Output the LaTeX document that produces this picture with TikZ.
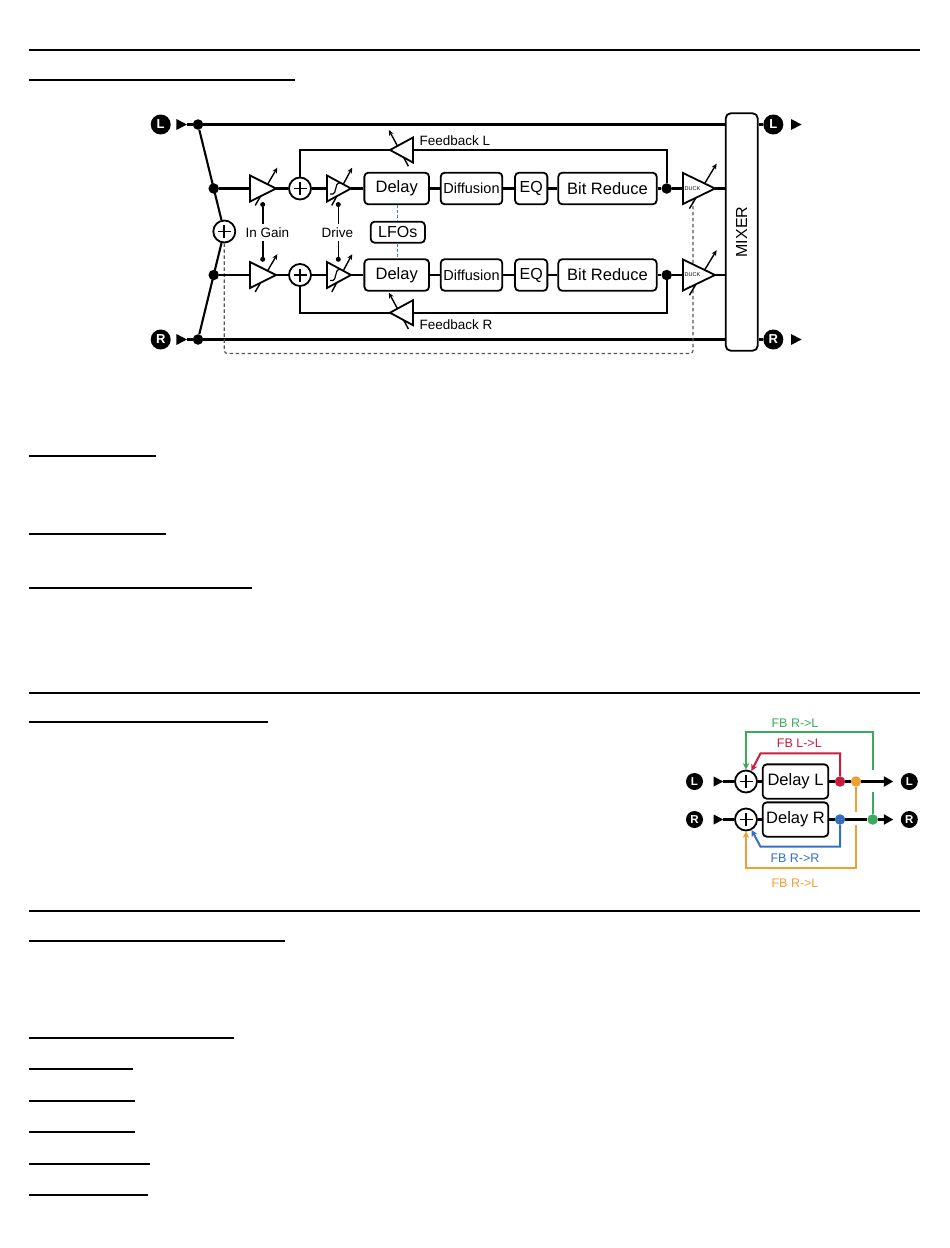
\documentclass[tikz,border=0pt]{standalone}
\usepackage{fontspec}
\usepackage{graphicx}
\setmainfont{Liberation Sans}
\usetikzlibrary{arrows.meta,calc}
\definecolor{fbgreen}{HTML}{3AAA5C}
\definecolor{fbred}{HTML}{C81E3C}
\definecolor{fborange}{HTML}{F0A030}
\definecolor{fbblue}{HTML}{3470C0}
\definecolor{lfoblue}{HTML}{3A7FC0}
\definecolor{ctlgray}{HTML}{555555}
\tikzset{
  pics/amp/.style args={#1/#2}{code={
    \draw[line width=1.4pt, -{Stealth[length=5.5pt,width=5pt]}] (-0.6*#1,1.3*#2) -- (1.1*#1,-1.6*#2);
    \draw[line width=1.8pt, fill=white, line join=miter] (-#1,-#2) -- (#1,0) -- (-#1,#2) -- cycle;
    \coordinate (-in) at (-#1,0);
    \coordinate (-out) at (#1,0);
  }},
}
\begin{document}
\begin{tikzpicture}[x=1pt,y=-1pt,
  wire/.style={line width=2.1pt},
  box/.style={draw, line width=1.8pt, rounded corners=4pt, fill=white, inner sep=0pt, font=\fontsize{16.5}{18}\selectfont},
  dot/.style={circle, fill, inner sep=0pt, minimum size=10.5pt},
  sdot/.style={circle, fill, inner sep=0pt, minimum size=5pt},
  io/.style={circle, fill=black, text=white, inner sep=0pt, minimum size=20pt, font=\fontsize{13}{13}\selectfont\bfseries},
  plus/.style={circle, draw, line width=1.8pt, minimum size=22pt, inner sep=0pt, fill=white,
    path picture={\draw[line width=1.8pt] ([xshift=-6.5pt]path picture bounding box.center) -- ([xshift=6.5pt]path picture bounding box.center) ([yshift=-6.5pt]path picture bounding box.center) -- ([yshift=6.5pt]path picture bounding box.center);}},
  lbl/.style={inner sep=3pt, font=\fontsize{13.5}{15}\selectfont},
  fbl/.style={inner sep=1pt, font=\fontsize{12.5}{14}\selectfont},
  rulestyle/.style={line width=2pt},
  uline/.style={line width=1.4pt},
  ctl/.style={line width=1.6pt},
  fbg/.style={line width=2pt, draw=fbgreen},
  fbr/.style={line width=2pt, draw=fbred},
  fbo/.style={line width=2pt, draw=fborange},
  fbb/.style={line width=2pt, draw=fbblue},
  fbtip/.style={-{Stealth[length=6.5pt,width=6.5pt]}},
]
\useasboundingbox (0,0) rectangle (950,1248);

% ---------- page rules and underlines ----------
\draw[rulestyle] (29,50) -- (920,50);
\draw[rulestyle] (29,80) -- (295,80);
\draw[uline] (29,456) -- (156,456);
\draw[uline] (29,534) -- (166,534);
\draw[uline] (29,588) -- (252,588);
\draw[rulestyle] (29,693) -- (920,693);
\draw[rulestyle] (29,722) -- (268,722);
\draw[rulestyle] (29,911) -- (920,911);
\draw[rulestyle] (29,941) -- (285,941);
\draw[uline] (29,1038) -- (234,1038);
\draw[uline] (29,1069) -- (133,1069);
\draw[uline] (29,1101) -- (135,1101);
\draw[uline] (29,1132) -- (135,1132);
\draw[uline] (29,1164) -- (150,1164);
\draw[uline] (29,1195) -- (148,1195);

% ---------- main diagram ----------
% inputs
\node[io] (Lin) at (160.7,124.5) {L};
\node[io] (Rin) at (160.7,339.5) {R};
\fill ([xshift=5.5pt]Lin.east) -- ++(0,-5.5) -- ++(10.5,5.5) -- ++(-10.5,5.5) -- cycle;
\fill ([xshift=5.5pt]Rin.east) -- ++(0,-5.5) -- ++(10.5,5.5) -- ++(-10.5,5.5) -- cycle;
\coordinate (Ltip) at ([xshift=16pt]Lin.east);
\coordinate (Rtip) at ([xshift=16pt]Rin.east);
\node[dot] (inL) at (198,124.5) {};
\node[dot] (inR) at (198,339.5) {};
\draw[wire] (Ltip) -- (inL) (Rtip) -- (inR);

% mixer
\node[draw, line width=1.8pt, rounded corners=5pt, minimum width=32pt, minimum height=237.4pt, inner sep=0pt, fill=white,
  font=\fontsize{16}{18}\selectfont] (mix) at (741.7,232) {\rotatebox{90}{MIXER}};

% sum of L+R for ducking control
\node[plus] (pin) at (224.3,231.5) {};
\node[dot] (jL) at (213.7,188.5) {};
\node[dot] (jR) at (213.7,275) {};
\draw[wire] (inL) -- (pin) (pin) -- (inR);

% dry lines to mixer
\draw[wire] (inL) -- (inL -| mix.west);
\draw[wire] (inR) -- (inR -| mix.west);

% ducking control (dashed)
\coordinate (dashbl) at (224.3,353.5);
\coordinate (dashbr) at (693,353.5);
\coordinate (duckctl) at (693,201);
\draw[line width=1.2pt, ctlgray, dash pattern=on 3.5pt off 2.5pt, rounded corners=3pt] (pin.south) -- (dashbl) -- (dashbr) -- (duckctl);

% LFOs
\node[box, minimum width=54.3pt, minimum height=21pt, font=\fontsize{16}{18}\selectfont] (lfo) at (397.8,232.2) {LFOs};

% rows
\foreach \r/\y in {1/188.5, 2/275}{
  \pic (ag\r) at (263,\y) {amp=13/13};
  \node[plus] (p\r) at (300,\y) {};
  \pic (dr\r) at (339,\y) {amp=12/13};
  \node[box, minimum width=64.7pt, minimum height=31.6pt] (dl\r) at (396.7,\y) {Delay};
  \node[box, minimum width=61.6pt, minimum height=31.6pt, font=\fontsize{14.5}{16}\selectfont] (df\r) at (471.5,\y) {Diffusion};
  \node[box, minimum width=32.3pt, minimum height=31.6pt, font=\fontsize{16}{18}\selectfont] (eq\r) at (531.2,\y) {EQ};
  \node[box, minimum width=98.4pt, minimum height=31.6pt] (br\r) at (607.5,\y) {Bit Reduce};
  \node[dot] (o\r) at (666.7,\y) {};
  \pic (dk\r) at (699,\y) {amp=16/15.5};
  \node[inner sep=0pt, font=\fontsize{5.5}{6}\selectfont] (dkt\r) at (692.5,\y) {DUCK};
  \draw[wire] (ag\r-out) -- (p\r) (p\r) -- (dr\r-in) (dr\r-out) -- (dl\r) (dl\r) -- (df\r) (df\r) -- (eq\r) (eq\r) -- (br\r) (br\r) -- (o\r) (o\r) -- (dk\r-in) (dk\r-out) -- (dk\r-out -| mix.west);
  % soft clip curve in the drive stage
  \draw[line width=1.2pt] (330,\y+5.5) -- (333,\y+5.5) .. controls (336,\y+5.5) and (335.5,\y-5.5) .. (338.5,\y-5.5) -- (340.5,\y-5.5);
}
\draw[wire] (jL) -- (ag1-in) (jR) -- (ag2-in);

% LFO modulation
\draw[line width=1.3pt, lfoblue, dash pattern=on 3pt off 2pt] (lfo.north |- dl1.south) -- (lfo.north) (lfo.south) -- (lfo.south |- dl2.north);

% feedback
\pic[xscale=-1] (fb1) at (401.5,150) {amp=11.5/12.5};
\pic[xscale=-1] (fb2) at (401.5,312.7) {amp=11.5/12.5};
\draw[wire] (p1) |- (fb1-out);
\draw[wire] (fb1-in) -| (o1);
\draw[wire] (p2) |- (fb2-out);
\draw[wire] (fb2-in) -| (o2);
\node[lbl, anchor=west, inner sep=0pt] (fbtL) at (419.5,140.5) {Feedback L};
\node[lbl, anchor=west, inner sep=0pt] (fbtR) at (419.5,325) {Feedback R};

% gain / drive controls
\node[lbl] (tg) at (267.3,232.5) {In Gain};
\node[lbl] (td) at (337.3,232.5) {Drive};
\node[sdot] (g1) at (262.7,204.5) {};
\node[sdot] (g2) at (262.7,259.3) {};
\node[sdot] (k1) at (338.3,204.5) {};
\node[sdot] (k2) at (338.3,259.3) {};
\draw[ctl] (g1) -- (g1 |- tg.north) (g2) -- (g2 |- tg.south);
\draw[ctl] (k1) -- (k1 |- td.north) (k2) -- (k2 |- td.south);

% outputs
\node[io] (Lout) at (773.3,124.5) {L};
\node[io] (Rout) at (773.3,339.5) {R};
\draw[wire] (Lout -| mix.east) -- (Lout);
\draw[wire] (Rout -| mix.east) -- (Rout);
\fill ([xshift=7.5pt]Lout.east) -- ++(0,-5.5) -- ++(10.5,5.5) -- ++(-10.5,5.5) -- cycle;
\fill ([xshift=7.5pt]Rout.east) -- ++(0,-5.5) -- ++(10.5,5.5) -- ++(-10.5,5.5) -- cycle;

% ---------- stereo feedback diagram ----------
\node[io, minimum size=17pt, font=\fontsize{11.5}{12}\selectfont\bfseries] (L2in) at (694.5,781.5) {L};
\node[io, minimum size=17pt, font=\fontsize{11.5}{12}\selectfont\bfseries] (R2in) at (694.5,819.5) {R};
\fill ([xshift=10.5pt]L2in.east) -- ++(0,-5) -- ++(9.5,5) -- ++(-9.5,5) -- cycle;
\fill ([xshift=10.5pt]R2in.east) -- ++(0,-5) -- ++(9.5,5) -- ++(-9.5,5) -- cycle;
\coordinate (L2tip) at ([xshift=20pt]L2in.east);
\coordinate (R2tip) at ([xshift=20pt]R2in.east);
\node[plus] (p3) at (746,781.5) {};
\node[plus] (p4) at (746,819.5) {};
\node[box, minimum width=65.6pt, minimum height=34.3pt] (d3) at (795.5,781.5) {Delay L};
\node[box, minimum width=65.6pt, minimum height=34.3pt] (d4) at (795.5,819.5) {Delay R};
\node[dot, fill=fbred] (rd) at (840,781.5) {};
\node[dot, fill=fborange] (od) at (856,781.5) {};
\node[dot, fill=fbblue] (bd) at (840,819.5) {};
\node[dot, fill=fbgreen] (gd) at (872.7,819.5) {};
\coordinate (oL) at (893.3,781.5);
\coordinate (oR) at (893.3,819.5);
\node[io, minimum size=17pt, font=\fontsize{11.5}{12}\selectfont\bfseries] (L2out) at (909.3,781.5) {L};
\node[io, minimum size=17pt, font=\fontsize{11.5}{12}\selectfont\bfseries] (R2out) at (909.3,819.5) {R};

\draw[wire] (L2tip) -- (p3) (p3) -- (d3) (d3) -- (rd) (rd) -- (od);
\draw[wire] (R2tip) -- (p4) (p4) -- (d4) (d4) -- (bd) (bd) -- (gd);
\draw[wire, -{Triangle[length=9.5pt,width=10pt]}] (od) -- (oL);
\draw[wire, -{Triangle[length=9.5pt,width=10pt]}] (gd) -- (oR);

% green FB R->L
\coordinate (gA) at (872.7,792);
\coordinate (gB) at (872.7,770);
\coordinate (gC) at (872.7,731.7);
\coordinate (gD) at (746,731.7);
\draw[fbg] (gd) -- (gA);
\draw[fbg, fbtip] (gB) -- (gC) -- (gD) -- (p3);
% red FB L->L
\coordinate (rA) at (840,753.3);
\coordinate (rB) at (760.5,753.3);
\draw[fbr, fbtip] (rd) -- (rA) -- (rB) -- (p3);
% orange FB
\coordinate (oA) at (856,811.5);
\coordinate (oB) at (856,824.5);
\coordinate (oC) at (856,868.3);
\coordinate (oD) at (746,868.3);
\draw[fbo] (od) -- (oA);
\draw[fbo, fbtip] (oB) -- (oC) -- (oD) -- (p4);
% blue FB R->R
\coordinate (bA) at (840,846.7);
\coordinate (bB) at (760.5,846.7);
\draw[fbb, fbtip] (bd) -- (bA) -- (bB) -- (p4);

\node[fbl, text=fbgreen] (tG) at (795,722.7) {FB R->L};
\node[fbl, text=fbred] (tRd) at (799.3,743.3) {FB L->L};
\node[fbl, text=fbblue] (tB) at (795,858.3) {FB R->R};
\node[fbl, text=fborange] (tO) at (795,882.7) {FB R->L};

\end{tikzpicture}
\end{document}
